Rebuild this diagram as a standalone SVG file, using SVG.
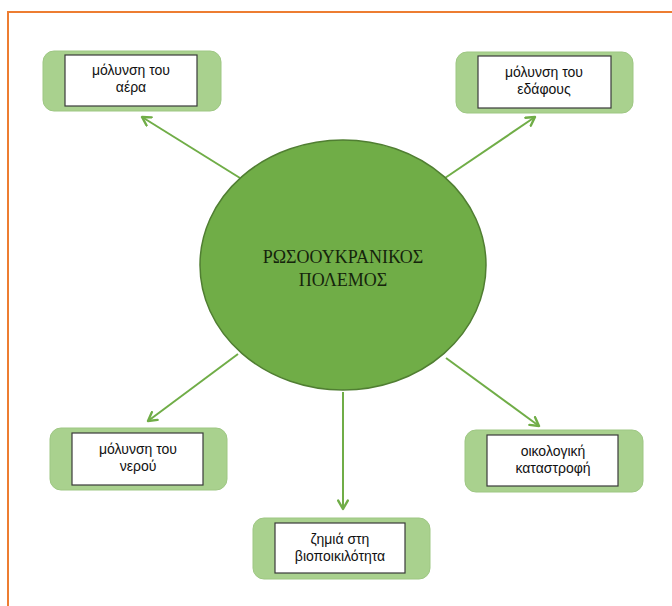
<svg xmlns="http://www.w3.org/2000/svg" width="672" height="606" viewBox="0 0 672 606">
<defs>
<style>
.outer{fill:#a9d18e;stroke:#9ec783;stroke-width:1}
.inner{fill:#ffffff;stroke:#3a3a3a;stroke-width:1.2}
.lbl{font-family:"Liberation Sans",Arial,sans-serif;font-size:14px;fill:#111111;text-anchor:middle}
.ctr{font-family:"Liberation Serif","Times New Roman",serif;font-size:18px;fill:#15240c;text-anchor:middle}
.arr{stroke:#70ad47;stroke-width:2;fill:none;marker-end:url(#ah)}
</style>
<marker id="ah" viewBox="0 0 10 10" refX="8" refY="5" markerWidth="6" markerHeight="6" orient="auto" markerUnits="strokeWidth">
<path d="M1,1 L8,5 L1,9" fill="none" stroke="#70ad47" stroke-width="2" stroke-linecap="round" stroke-linejoin="round"/>
</marker>
</defs>
<rect x="0" y="0" width="672" height="606" fill="#ffffff"/>
<path d="M8,620 L8,12 L680,12" fill="none" stroke="#ed7d31" stroke-width="2"/>
<g id="connectors">
<line class="arr" x1="240" y1="178" x2="142" y2="117"/>
<line class="arr" x1="445" y1="178" x2="535" y2="117"/>
<line class="arr" x1="238" y1="354" x2="148" y2="421"/>
<line class="arr" x1="446" y1="358" x2="539" y2="426"/>
<line class="arr" x1="343" y1="392" x2="343" y2="509"/>
</g>
<g id="center">
<ellipse cx="343" cy="265" rx="143" ry="125" fill="#70ad47" stroke="#507e32" stroke-width="1.5"/>
<text class="ctr" x="343" y="263">ΡΩΣΟΟΥΚΡΑΝΙΚΟΣ</text>
<text class="ctr" x="343" y="286">ΠΟΛΕΜΟΣ</text>
</g>
<g id="air">
<rect class="outer" x="43" y="51" width="178" height="60" rx="11"/>
<rect class="inner" x="65" y="55" width="132" height="51"/>
<text class="lbl" x="131" y="75">μόλυνση του</text>
<text class="lbl" x="131" y="92">αέρα</text>
</g>
<g id="soil">
<rect class="outer" x="456" y="52" width="177" height="61" rx="11"/>
<rect class="inner" x="478" y="56" width="133" height="52"/>
<text class="lbl" x="544" y="77">μόλυνση του</text>
<text class="lbl" x="544" y="94">εδάφους</text>
</g>
<g id="water">
<rect class="outer" x="50" y="428" width="177" height="62" rx="11"/>
<rect class="inner" x="72" y="433" width="131" height="52"/>
<text class="lbl" x="138" y="454">μόλυνση του</text>
<text class="lbl" x="138" y="471">νερού</text>
</g>
<g id="eco">
<rect class="outer" x="465" y="430" width="178" height="62" rx="11"/>
<rect class="inner" x="487" y="435" width="131" height="51"/>
<text class="lbl" x="553" y="456">οικολογική</text>
<text class="lbl" x="553" y="473">καταστροφή</text>
</g>
<g id="bio">
<rect class="outer" x="253" y="518" width="177" height="61" rx="11"/>
<rect class="inner" x="275" y="523" width="130" height="50"/>
<text class="lbl" x="340" y="544">ζημιά στη</text>
<text class="lbl" x="340" y="561">βιοποικιλότητα</text>
</g>
</svg>
